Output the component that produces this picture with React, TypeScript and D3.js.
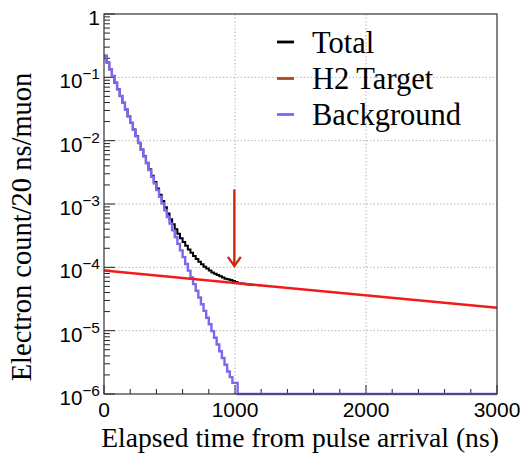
import React from 'react';
import * as d3 from 'd3';

// ---- data ----
const binWidth = 20; // ns
const backgroundCounts = [
  0.219, 0.171, 0.134, 0.105, 0.0824, 0.0646, 0.0506, 0.0396, 0.031, 0.0243,
  0.0191, 0.0149, 0.0117, 0.00916, 0.00718, 0.00562, 0.00441, 0.00345, 0.0027, 0.00212,
  0.00166, 0.0013, 0.00102, 7.98e-4, 6.25e-4, 4.9e-4, 3.84e-4, 3.01e-4, 2.35e-4, 1.85e-4,
  1.45e-4, 1.13e-4, 8.86e-5, 6.94e-5, 5.44e-5, 4.26e-5, 3.34e-5, 2.61e-5, 2.05e-5, 1.6e-5,
  1.26e-5, 9.84e-6, 7.71e-6, 6.04e-6, 4.73e-6, 3.71e-6, 2.9e-6, 2.27e-6, 1.85e-6, 1.5e-6,
  1.5e-6,
];
const totalCounts = [
  0.219, 0.171, 0.134, 0.105, 0.0825, 0.0647, 0.0507, 0.0397, 0.0311, 0.0244,
  0.0192, 0.015, 0.0118, 0.00925, 0.00727, 0.00571, 0.0045, 0.00354, 0.0028, 0.00222,
  0.00176, 0.0014, 1.12e-3, 8.91e-4, 7.08e-4, 5.75e-4, 4.79e-4, 3.98e-4, 3.39e-4, 2.88e-4,
  2.51e-4, 2.19e-4, 1.91e-4, 1.7e-4, 1.51e-4, 1.35e-4, 1.23e-4, 1.12e-4, 1.02e-4, 9.55e-5,
  8.91e-5, 8.32e-5, 7.94e-5, 7.59e-5, 7.24e-5, 6.92e-5, 6.61e-5, 6.46e-5, 6.31e-5, 6.1e-5,
  5.89e-5, 5.62e-5, 5.56e-5, 5.5e-5, 5.43e-5, 5.38e-5, 5.33e-5, 5.28e-5, 5.24e-5, 5.19e-5,
];
const h2Times = [0, 3000];
const h2Values = [8.9e-5, 2.3e-5];
const xTickValues = [0, 1000, 2000, 3000];
const xGridValues = [1000, 2000];
const yDecadeExponents = [0, -1, -2, -3, -4, -5, -6];
const legendLabels = ['Total', 'H2 Target', 'Background'];
const arrowTime = 995;
const arrowFrom = 1.7e-3;
const arrowTo = 1.0e-4;

// ---- layout ----
const W = 524, H = 459;
const L = 104, R = 497, T = 14, B = 394;
const xMax = 3000;
const yMin = 1e-6, yMax = 1;

const SERIF = '"Liberation Serif", "Times New Roman", serif';
const SANS = '"Liberation Sans", Arial, Helvetica, sans-serif';

const colBlack = '#000000';
const colRed = '#f21b1b';
const colLegendRed = '#b8461c';
const colBlue = '#7b68ee';
const colArrow = '#cc2a10';

export default function App() {
  const x = d3.scaleLinear().domain([0, xMax]).range([L, R]);
  const y = d3.scaleLog().domain([yMin, yMax]).range([B, T]).clamp(true);

  const stepLine = d3
    .line<[number, number]>()
    .x((d) => x(d[0]))
    .y((d) => y(d[1]))
    .curve(d3.curveStepAfter);

  const totalPts: [number, number][] = totalCounts.map((v, i) => [i * binWidth, v]);
  totalPts.push([totalCounts.length * binWidth, totalCounts[totalCounts.length - 1]]);

  const bgPts: [number, number][] = backgroundCounts.map((v, i) => [i * binWidth, v]);
  bgPts.push([backgroundCounts.length * binWidth, yMin]);
  bgPts.push([xMax, yMin]);

  const h2Line = d3
    .line<number>()
    .x((_, i) => x(h2Times[i]))
    .y((d) => y(d));

  // minor y ticks
  const minorY: number[] = [];
  for (let e = -6; e < 0; e++) {
    for (let m = 2; m <= 9; m++) minorY.push(m * Math.pow(10, e));
  }
  const minorX: number[] = d3.range(200, xMax, 200).filter((v) => v % 1000 !== 0);

  const ax = x(arrowTime);
  const ay0 = y(arrowFrom);
  const ay1 = y(arrowTo);

  const legendX1 = 277, legendX2 = 294, legendTextX = 312;
  const legendY = [42, 78.5, 114.5];
  const legendColors = [colBlack, colLegendRed, colBlue];

  return (
    <svg
      width={W}
      height={H}
      style={{ position: 'absolute', left: 0, top: 0, background: '#fff' }}
      xmlns="http://www.w3.org/2000/svg"
    >
      <rect x={0} y={0} width={W} height={H} fill="#fff" />
      {/* grid */}
      <g stroke="#b8b8b8" strokeWidth={1} strokeDasharray="1.5,2">
        {yDecadeExponents
          .filter((e) => e < 0 && e > -6)
          .map((e) => (
            <line key={'gy' + e} x1={L} x2={R} y1={y(Math.pow(10, e))} y2={y(Math.pow(10, e))} />
          ))}
        {xGridValues.map((v) => (
          <line key={'gx' + v} x1={x(v)} x2={x(v)} y1={T} y2={B} />
        ))}
      </g>

      {/* ticks */}
      <g stroke="#222" strokeWidth={1}>
        {yDecadeExponents.map((e) => (
          <line key={'ty' + e} x1={L} x2={L + 11} y1={y(Math.pow(10, e))} y2={y(Math.pow(10, e))} />
        ))}
        {minorY.map((v, i) => (
          <line key={'my' + i} x1={L} x2={L + 6} y1={y(v)} y2={y(v)} />
        ))}
        {xTickValues.map((v) => (
          <line key={'tx' + v} x1={x(v)} x2={x(v)} y1={B} y2={B - 9} />
        ))}
        {minorX.map((v) => (
          <line key={'mx' + v} x1={x(v)} x2={x(v)} y1={B} y2={B - 5} />
        ))}
      </g>

      {/* histograms */}
      <path d={stepLine(totalPts) || ''} fill="none" stroke={colBlack} strokeWidth={2} />
      <path d={stepLine(bgPts) || ''} fill="none" stroke={colBlue} strokeWidth={2.4} />
      <path d={h2Line(h2Values) || ''} fill="none" stroke={colRed} strokeWidth={2.6} />

      {/* arrow */}
      <g stroke={colArrow} strokeWidth={2.4} fill="none" strokeLinecap="butt">
        <line x1={ax} x2={ax} y1={ay0} y2={ay1 - 1} />
        <polyline points={`${ax - 6.5},${ay1 - 10.5} ${ax},${ay1 - 1.5} ${ax + 6.5},${ay1 - 10.5}`} strokeLinejoin="miter" />
      </g>

      {/* frame */}
      <rect x={L} y={T} width={R - L} height={B - T} fill="none" stroke="#333" strokeWidth={1.2} />

      {/* y tick labels */}
      <g fontFamily={SANS} fill="#000">
        {yDecadeExponents.map((e) =>
          e === 0 ? (
            <text key={'ly' + e} x={100} y={y(1) + 11} fontSize={21} textAnchor="end">
              1
            </text>
          ) : (
            <text key={'ly' + e} x={100} y={y(Math.pow(10, e)) + 11} fontSize={20.5} textAnchor="end">
              10
              <tspan fontSize={15.5} dy={-9}>
                {'\u2212' + String(-e)}
              </tspan>
            </text>
          )
        )}
      </g>

      {/* x tick labels */}
      <g fontFamily={SANS} fill="#000" fontSize={21} textAnchor="middle">
        {xTickValues.map((v) => (
          <text key={'lx' + v} x={x(v)} y={417}>
            {String(v)}
          </text>
        ))}
      </g>

      {/* axis titles */}
      <text x={300} y={447} fontFamily={SERIF} fontSize={27.6} textAnchor="middle" fill="#000">
        Elapsed time from pulse arrival (ns)
      </text>
      <text
        transform={`translate(31, 227) rotate(-90)`}
        fontFamily={SERIF}
        fontSize={28.5}
        textAnchor="middle"
        fill="#000"
      >
        Electron count/20 ns/muon
      </text>

      {/* legend */}
      {legendLabels.map((lab, i) => (
        <g key={'lg' + i}>
          <line
            x1={legendX1}
            x2={legendX2}
            y1={legendY[i]}
            y2={legendY[i]}
            stroke={legendColors[i]}
            strokeWidth={2.8}
          />
          <text x={legendTextX} y={legendY[i] + 10.5} fontFamily={SERIF} fontSize={30.5} fill="#000">
            {lab}
          </text>
        </g>
      ))}
    </svg>
  );
}
